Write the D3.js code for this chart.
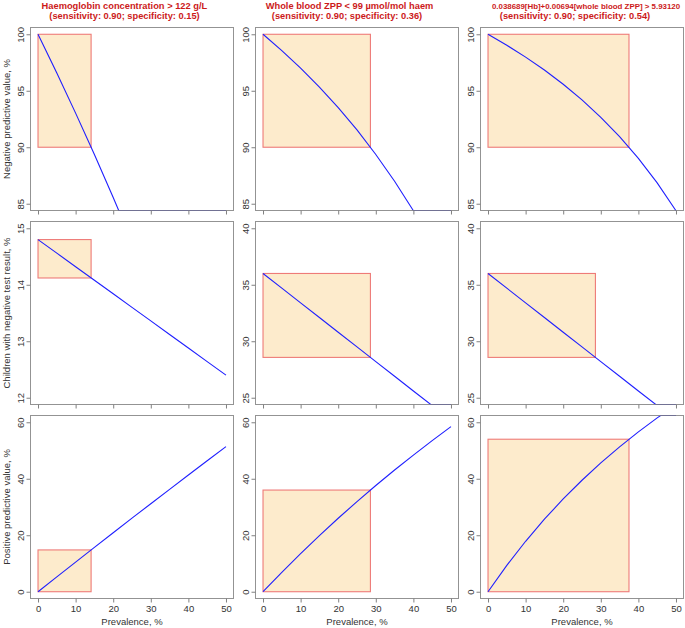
<!DOCTYPE html>
<html><head><meta charset="utf-8">
<script src="https://cdn.jsdelivr.net/npm/d3@7"></script>
<style>body{margin:0;background:#fff}svg{display:block;font-family:"Liberation Sans",Arial,Helvetica,sans-serif}</style>
</head><body><svg id="c" width="685" height="628"></svg>
<script>
// ---- data ----
const prevalence = [0, 5, 10, 15, 20, 25, 30, 35, 40, 45, 50];
const xTicks = [0, 10, 20, 30, 40, 50];

const titlesLine1 = ["Haemoglobin concentration > 122 g/L", "Whole blood ZPP < 99 \u00b5mol/mol haem", "0.038689[Hb]+0.00694[whole blood ZPP] > 5.93120"];
const titlesLine2 = ["(sensitivity: 0.90; specificity: 0.15)", "(sensitivity: 0.90; specificity: 0.36)", "(sensitivity: 0.90; specificity: 0.54)"];
const rowTitles = ["Negative predictive value, %", "Children with negative test result, %", "Positive predictive value, %"];
const xTitle = "Prevalence, %";

// Row 1: negative predictive value, %
const npvHb  = [100, 96.57, 93.02, 89.35, 85.55, 81.62, 77.54, 73.32, 68.94, 64.40, 59.68];
const npvZpp = [100, 98.56, 97.01, 95.33, 93.51, 91.53, 89.36, 86.99, 84.38, 81.48, 78.26];
const npvComb = [100, 99.03, 97.98, 96.84, 95.58, 94.19, 92.65, 90.93, 89.01, 86.84, 84.38];
// Row 2: children with negative test result, %
const negHb  = [14.8, 14.56, 14.32, 14.08, 13.84, 13.6, 13.36, 13.12, 12.88, 12.64, 12.4];
const negZpp = [36, 34.7, 33.4, 32.1, 30.8, 29.5, 28.2, 26.9, 25.6, 24.3, 23.0];
const negComb = [36, 34.7, 33.4, 32.1, 30.8, 29.5, 28.2, 26.9, 25.6, 24.3, 23.0];
// Row 3: positive predictive value, %
const ppvHb  = [0, 5.27, 10.50, 15.71, 20.89, 26.04, 31.16, 36.26, 41.32, 46.36, 51.37];
const ppvZpp = [0, 6.89, 13.51, 19.88, 26.01, 31.91, 37.60, 43.09, 48.39, 53.50, 58.44];
const ppvComb = [0, 9.34, 17.86, 25.67, 32.85, 39.47, 45.61, 51.30, 56.60, 61.55, 66.18];

// y limits and ticks per row / column
const yLimNpv = [85, 100], yTicksNpv = [85, 90, 95, 100];
const yLimNeg = [[12, 15], [25, 40], [25, 40]];
const yTicksNeg = [[12, 13, 14, 15], [25, 30, 35, 40], [25, 30, 35, 40]];
const yLimPpv = [0, 60], yTicksPpv = [0, 20, 40, 60];

// highlighted boxes (prevalence where NPV falls to 90 %)
const boxPrevNpv = [14.12, 28.57, 37.5];
const boxNpvRange = [90, 100];
const boxPrevNeg = [14.12, 28.57, 28.57];
const boxNegLow = [14.12, 28.57, 28.57];
const boxNegHigh = [14.8, 36, 36];
const boxPrevPpv = [14.12, 28.57, 37.5];
const boxPpvHigh = [14.8, 36, 54];

// ---- layout ----
const colLeft = [30, 255, 480], boxW = 203;
const rowTop = [27, 221, 415], boxH = 183;
const gray = "#808080", textCol = "#333";

const rows = [0, 1, 2].map(r => [0, 1, 2].map(c => {
  if (r === 0) return {lim: yLimNpv, ticks: yTicksNpv, vals: [npvHb, npvZpp, npvComb][c],
    rect: {x0: 0, x1: boxPrevNpv[c], y0: boxNpvRange[0], y1: boxNpvRange[1]}};
  if (r === 1) return {lim: yLimNeg[c], ticks: yTicksNeg[c], vals: [negHb, negZpp, negComb][c],
    rect: {x0: 0, x1: boxPrevNeg[c], y0: boxNegLow[c], y1: boxNegHigh[c]}};
  return {lim: yLimPpv, ticks: yTicksPpv, vals: [ppvHb, ppvZpp, ppvComb][c],
    rect: {x0: 0, x1: boxPrevPpv[c], y0: 0, y1: boxPpvHigh[c]}};
}));

const svg = d3.select("#c");

function ext(lim) { const r = lim[1] - lim[0]; return [lim[0] - 0.04 * r, lim[1] + 0.04 * r]; }

// polyline clamped to [lo,hi], inserting boundary crossings
function clampPts(xs, ys, lo, hi) {
  const out = [];
  const cl = v => Math.max(lo, Math.min(hi, v));
  for (let i = 0; i < xs.length; i++) {
    if (i > 0) {
      const ya = ys[i - 1], yb = ys[i], xa = xs[i - 1], xb = xs[i];
      const cr = [];
      [lo, hi].forEach(b => {
        if ((ya - b) * (yb - b) < 0) { const t = (b - ya) / (yb - ya); cr.push([t, xa + t * (xb - xa), b]); }
      });
      cr.sort((a, b) => a[0] - b[0]).forEach(p => out.push([p[1], p[2]]));
    }
    out.push([xs[i], cl(ys[i])]);
  }
  return out;
}

rows.forEach((row, r) => row.forEach((p, c) => {
  const L = colLeft[c] + 0.5, T = rowTop[r] + 0.5;
  const x = d3.scaleLinear().domain([-2, 52]).range([L, L + boxW]);
  const yd = ext(p.lim);
  const y = d3.scaleLinear().domain(yd).range([T + boxH, T]);
  const g = svg.append("g");

  // highlight rectangle
  g.append("rect")
    .attr("x", x(p.rect.x0)).attr("y", y(p.rect.y1))
    .attr("width", x(p.rect.x1) - x(p.rect.x0)).attr("height", y(p.rect.y0) - y(p.rect.y1))
    .attr("fill", "#fdebcc").attr("stroke", "#ee7b78").attr("stroke-width", 1.1);

  // curve
  const pts = clampPts(prevalence, p.vals, yd[0], yd[1]);
  g.append("path").attr("d", d3.line().x(d => x(d[0])).y(d => y(d[1]))(pts))
    .attr("fill", "none").attr("stroke", "#1f1fff").attr("stroke-width", 1.1);

  // frame
  g.append("rect").attr("x", L).attr("y", T).attr("width", boxW).attr("height", boxH)
    .attr("fill", "none").attr("stroke", gray).attr("stroke-opacity", 0.85).attr("stroke-width", 1);

  // x axis
  const xa = g.append("g").attr("transform", `translate(0,${T + boxH})`)
    .call(d3.axisBottom(x).tickValues(xTicks).tickSize(4).tickPadding(3)
      .tickFormat(r === 2 ? d3.format("d") : () => ""));
  xa.select(".domain").remove();
  xa.selectAll("line").attr("stroke", gray);
  xa.selectAll("text").attr("fill", textCol).style("font-size", "9.5px").style("font-family", null);

  // y axis
  const ya = g.append("g").attr("transform", `translate(${L},0)`)
    .call(d3.axisLeft(y).tickValues(p.ticks).tickSize(4).tickFormat(d3.format("d")));
  ya.select(".domain").remove();
  ya.selectAll("line").attr("stroke", gray);
  ya.selectAll("text").attr("fill", textCol).style("font-size", "9.5px").style("font-family", null)
    .attr("x", null).attr("dy", null).attr("text-anchor", "middle")
    .attr("transform", "translate(-7,0) rotate(-90)");

  if (r === 2) {
    svg.append("text").attr("x", x(25)).attr("y", 625).attr("text-anchor", "middle")
      .attr("fill", textCol).style("font-size", "9.5px").text(xTitle);
  }
  if (c === 0) {
    svg.append("text").attr("transform", `translate(10,${T + boxH / 2}) rotate(-90)`)
      .attr("text-anchor", "middle").attr("fill", textCol).style("font-size", "9.5px").text(rowTitles[r]);
  }
}));

// column titles
const t1x = [124.4, 349.5, 586], t2x = [124.5, 347, 575];
const t1size = ["9.3px", "9.3px", "7.9px"];
[0, 1, 2].forEach(c => {
  svg.append("text").attr("x", t1x[c]).attr("y", 9).attr("text-anchor", "middle")
    .attr("fill", "#cc1a1a").style("font-size", t1size[c]).style("font-weight", "bold").text(titlesLine1[c]);
  svg.append("text").attr("x", t2x[c]).attr("y", 19).attr("text-anchor", "middle")
    .attr("fill", "#cc1a1a").style("font-size", "9.3px").style("font-weight", "bold").text(titlesLine2[c]);
});
</script></body></html>
